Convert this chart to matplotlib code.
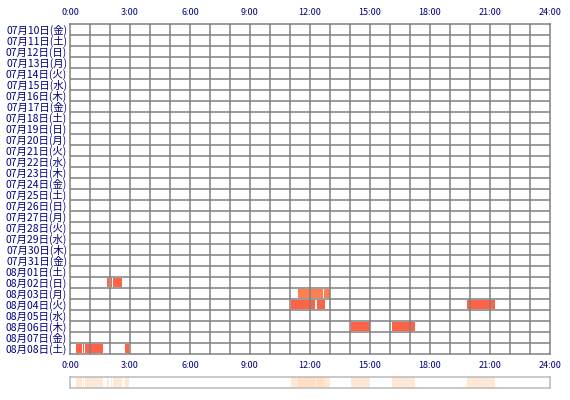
import matplotlib.pyplot as plt

plt.rcParams['font.family'] = ['Noto Sans CJK JP', 'DejaVu Sans']

days = ["07月10日(金)", "07月11日(土)", "07月12日(日)", "07月13日(月)", "07月14日(火)",
        "07月15日(水)", "07月16日(木)", "07月17日(金)", "07月18日(土)", "07月19日(日)",
        "07月20日(月)", "07月21日(火)", "07月22日(水)", "07月23日(木)", "07月24日(金)",
        "07月25日(土)", "07月26日(日)", "07月27日(月)", "07月28日(火)", "07月29日(水)",
        "07月30日(木)", "07月31日(金)", "08月01日(土)", "08月02日(日)", "08月03日(月)",
        "08月04日(火)", "08月05日(水)", "08月06日(木)", "08月07日(金)", "08月08日(土)"]

# activity segments: (day label, start hour, end hour)
seg_day = ["08月02日(日)", "08月02日(日)", "08月02日(日)",
           "08月03日(月)", "08月03日(月)",
           "08月04日(火)", "08月04日(火)", "08月04日(火)",
           "08月06日(木)", "08月06日(木)",
           "08月08日(土)", "08月08日(土)", "08月08日(土)", "08月08日(土)"]
seg_start = [1.85, 2.03, 2.13, 11.4, 12.7, 11.05, 12.33, 19.87, 14.05, 16.1, 0.3, 0.65, 0.75, 2.75]
seg_end = [1.97, 2.08, 2.6, 12.67, 12.98, 12.25, 12.75, 21.25, 15.0, 17.25, 0.6, 0.7, 1.63, 2.95]

hour_ticks = list(range(0, 25, 3))
hour_labels = ["%d:00" % h for h in hour_ticks]

W, H = 570, 400
fig = plt.figure(figsize=(W / 100, H / 100), dpi=100)
ax = fig.add_axes([70 / W, (H - 354) / H, 480 / W, 330 / H])
strip = fig.add_axes([70 / W, (H - 388) / H, 480 / W, 11 / H])

grid_c = "#808080"
label_c = "#000080"

for d, s, e in zip(seg_day, seg_start, seg_end):
    r = days.index(d)
    col = "#FF7F50" if d == "08月03日(月)" else "#FF6347"
    ax.fill_between([s, e], r + 0.05, r + 0.95, color=col, linewidth=0, zorder=1)
    strip.axvspan(s, e, color="#FFDAB9", alpha=0.6, linewidth=0)

ax.set_xlim(0, 24)
ax.set_ylim(len(days), 0)
for h in range(1, 24):
    ax.axvline(h, color=grid_c, linewidth=1.1, zorder=3)
for r in range(1, len(days)):
    ax.axhline(r, color=grid_c, linewidth=1.1, zorder=3)
for sp in ax.spines.values():
    sp.set_color(grid_c)
    sp.set_linewidth(1.1)
    sp.set_zorder(4)

ax.set_xticks(hour_ticks)
ax.set_xticklabels(hour_labels)
ax.tick_params(axis="x", length=0, labelsize=6.5, labelcolor=label_c, pad=5,
               top=True, labeltop=True)
ax.set_yticks([i + 0.5 for i in range(len(days))])
ax.set_yticklabels(days)
ax.tick_params(axis="y", length=0, labelsize=7.5, labelcolor=label_c, pad=2)

strip.set_xlim(0, 24)
strip.set_ylim(0, 1)
strip.set_xticks([])
strip.set_yticks([])
for sp in strip.spines.values():
    sp.set_color("#BBBBBB")
    sp.set_linewidth(1.1)

fig.savefig("out.png", dpi=100)
